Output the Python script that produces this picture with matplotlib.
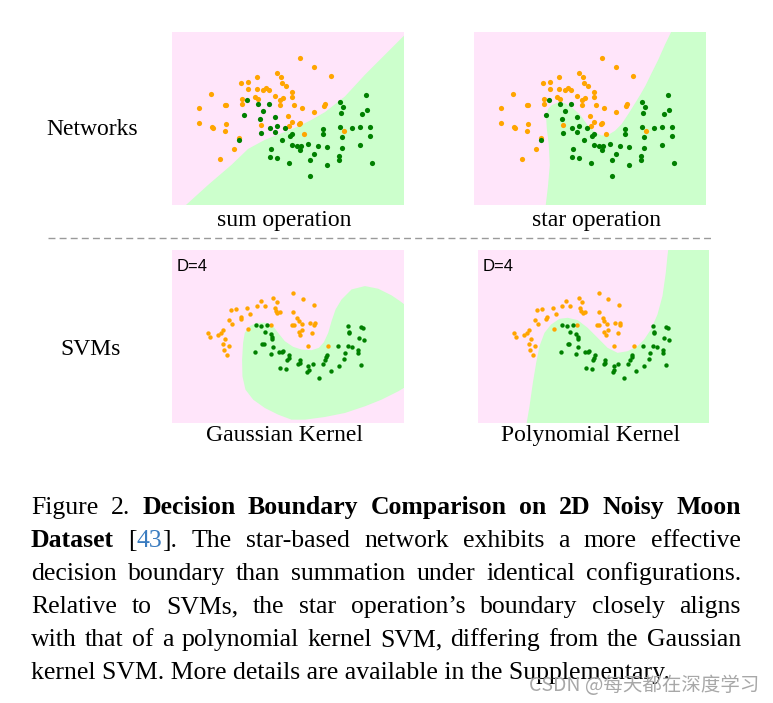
import matplotlib
matplotlib.use("Agg")
import matplotlib.pyplot as plt
import numpy as np

W, H = 773, 703
fig = plt.figure(figsize=(W / 100, H / 100), dpi=100)

# ---------------- data (panel pixel units) ----------------
# Top row dataset (shared by "sum" and "star" panels)
top_orange_x = [405, 447, 497, 338, 350, 277, 230, 250, 352, 364, 250, 276, 295, 305, 312, 138, 382, 232,
                270, 281, 330, 356, 347, 382, 102, 180, 184, 232, 346, 388, 410, 480, 477, 447, 370, 382,
                104, 142, 146, 184, 289, 372, 402, 405, 180, 418, 537, 224, 208, 166]
top_orange_y = [101, 128, 153, 144, 158, 156, 174, 173, 176, 183, 192, 192, 196, 190, 196, 207, 201, 222,
                218, 222, 215, 221, 226, 217, 249, 241, 240, 237, 242, 241, 251, 239, 243, 261, 275, 291,
                293, 307, 309, 298, 300, 302, 298, 294, 319, 326, 319, 339, 371, 403]
top_green_x = [604, 525, 534, 529, 590, 607, 248, 280, 313, 238, 294, 285, 332, 475, 475, 524, 562, 584,
               616, 532, 614, 288, 316, 338, 331, 362, 380, 374, 352, 223, 430, 380, 396, 408, 406, 460,
               486, 531, 585, 320, 316, 336, 446, 373, 436, 486, 523, 523, 622, 435]
top_green_y = [212, 231, 246, 264, 268, 255, 226, 237, 239, 271, 259, 281, 276, 311, 326, 307, 309, 305,
               307, 336, 333, 323, 310, 304, 321, 310, 328, 332, 344, 344, 356, 360, 362, 364, 375, 363,
               367, 368, 359, 371, 395, 398, 387, 415, 406, 420, 394, 406, 414, 452]

# Bottom row dataset (shared by both SVM panels)
bot_orange_x = [385, 413, 446, 325, 336, 288, 215, 200, 248, 276, 300, 330, 345, 338, 333, 256, 230, 228,
                193, 203, 385, 397, 402, 410, 380, 386, 434, 450, 448, 412, 402, 442, 406, 320, 251, 175,
                170, 160, 131, 137, 180, 174, 194, 178, 186, 430, 490]
bot_orange_y = [152, 168, 187, 166, 177, 174, 199, 201, 196, 189, 190, 196, 207, 210, 204, 214, 224, 230,
                231, 243, 207, 227, 235, 243, 248, 248, 242, 240, 246, 262, 268, 270, 277, 248, 259, 262,
                270, 278, 270, 282, 287, 302, 308, 322, 335, 309, 309]
bot_green_x = [275, 290, 308, 300, 318, 322, 322, 550, 553, 552, 588, 595, 582, 598, 292, 297, 324, 272,
               318, 344, 352, 356, 373, 372, 368, 405, 404, 400, 430, 444, 427, 432, 346, 365, 462, 498,
               486, 484, 480, 473, 518, 548, 560, 578, 578, 540, 536, 522, 588]
bot_green_y = [248, 249, 247, 268, 275, 282, 287, 250, 268, 272, 252, 257, 284, 291, 302, 303, 313, 327,
               333, 328, 327, 324, 337, 345, 350, 352, 360, 362, 369, 364, 386, 380, 374, 378, 405, 383,
               335, 343, 350, 364, 308, 310, 311, 322, 330, 330, 349, 368, 366]

# Decision boundaries (panel pixel units)
sum_bx = [55, 130, 200, 250, 300, 350, 400, 440, 480, 540, 600, 660, 725]
sum_by = [548, 480, 420, 372, 345, 325, 305, 285, 262, 215, 150, 90, 25]
star_bx = [236, 244, 249, 246, 240, 238, 244, 256, 274, 294, 318, 340, 362, 384, 404, 424, 444, 464, 484,
           504, 520, 536, 554, 574, 594, 616]
star_by = [548, 480, 420, 360, 310, 275, 252, 240, 233, 235, 250, 270, 300, 322, 332, 330, 318, 298, 268,
           236, 210, 182, 145, 105, 60, 15]
gauss_bx = [235, 240, 255, 275, 305, 325, 340, 360, 385, 410, 440, 462, 477, 490, 500, 512, 530, 560, 600,
            640, 680, 705, 725, 725, 700, 650, 600, 540, 480, 420, 380, 340, 300, 265, 242, 233, 232]
gauss_by = [300, 270, 250, 240, 240, 250, 270, 295, 312, 320, 322, 315, 298, 270, 235, 200, 170, 140, 130,
            138, 158, 175, 190, 430, 445, 470, 490, 510, 522, 530, 530, 515, 495, 470, 440, 400, 350]
poly_bx = [167, 177, 187, 197, 207, 222, 242, 267, 292, 322, 352, 382, 412, 442, 472, 502, 522, 542, 562,
           577, 587, 592, 595]
poly_by = [548, 490, 420, 360, 310, 270, 245, 228, 225, 232, 255, 285, 315, 330, 325, 310, 290, 260, 215,
           160, 90, 40, 15]

ORANGE = "#FFA500"
GREEN = "#008000"
PINK = "#FFE5FA"
LGREEN = "#CCFFCC"
SERIF = "Liberation Serif"

def make_ax(rect):
    ax = fig.add_axes(rect)
    ax.set_facecolor(PINK)
    ax.set_xlim(22, 717)
    ax.set_ylim(540, 22)
    ax.set_xticks([])
    ax.set_yticks([])
    for s in ax.spines.values():
        s.set_visible(False)
    return ax

def rect_px(x0, y0, x1, y1):
    return [x0 / W, 1 - y1 / H, (x1 - x0) / W, (y1 - y0) / H]

# --- top-left: sum operation
ax1 = make_ax(rect_px(172, 32, 404, 205))
ax1.fill(sum_bx + [725], sum_by + [548], color=LGREEN, lw=0, zorder=1)
# --- top-right: star operation
ax2 = make_ax(rect_px(474, 32, 706, 205))
ax2.fill(star_bx + [725, 725], star_by + [15, 548], color=LGREEN, lw=0, zorder=1)
for ax in (ax1, ax2):
    ax.scatter(top_orange_x, top_orange_y, s=14, color=ORANGE, lw=0, zorder=3)
    ax.scatter(top_green_x, top_green_y, s=14, color=GREEN, lw=0, zorder=3)

# --- bottom-left: Gaussian kernel
ax3 = make_ax(rect_px(172, 250, 404, 423))
ax3.fill(gauss_bx, gauss_by, color=LGREEN, lw=0, zorder=1)
# --- bottom-right: polynomial kernel
ax4 = make_ax(rect_px(478, 250, 709, 423))
ax4.fill(poly_bx + [725, 725], poly_by + [15, 548], color=LGREEN, lw=0, zorder=1)
for ax in (ax3, ax4):
    ax.scatter(bot_orange_x, bot_orange_y, s=10, color=ORANGE, lw=0, zorder=3)
    ax.scatter(bot_green_x, bot_green_y, s=10, color=GREEN, lw=0, zorder=3)
    ax.text(0.022, 0.878, "D=4", transform=ax.transAxes, family="Liberation Sans",
            fontsize=12, ha="left", va="baseline", zorder=4)

def ftext(x, y, s, **kw):
    return fig.text(x / W, 1 - y / H, s, **kw)

lab = dict(family=SERIF, fontsize=17, va="baseline", ha="center")
ftext(92, 135, "Networks", **lab)
ftext(91, 355, "SVMs", **lab)
ftext(284, 226, "sum operation", **lab)
ftext(596, 226, "star operation", **lab)
ftext(284, 441, "Gaussian Kernel", **lab)
ftext(591, 441, "Polynomial Kernel", **lab)

# dashed separator
fig.add_artist(plt.Line2D([48 / W, 714 / W], [1 - 238 / H, 1 - 238 / H], color="#9a9a9a",
                          lw=1.0, ls=(0, (5, 3))))

# ---------------- caption (justified) ----------------
N, B, BL = "normal", "bold", "#3a7cc0"
cap_lines = [
    [[("Figure", N, "k")], [("2.", N, "k")], [("Decision", B, "k")], [("Boundary", B, "k")],
     [("Comparison", B, "k")], [("on", B, "k")], [("2D", B, "k")], [("Noisy", B, "k")], [("Moon", B, "k")]],
    [[("Dataset", B, "k")], [("[", N, "k"), ("43", N, BL), ("].", N, "k")]] +
    [[(w, N, "k")] for w in "The star-based network exhibits a more effective".split()],
    [[(w, N, "k")] for w in "decision boundary than summation under identical configurations.".split()],
    [[(w, N, "k")] for w in "Relative to SVMs, the star operation\u2019s boundary closely aligns".split()],
    [[(w, N, "k")] for w in "with that of a polynomial kernel SVM, differing from the Gaussian".split()],
]
last_line = "kernel SVM. More details are available in the Supplementary."
baselines = [514, 547, 580, 613, 646, 679]
CAP_L, CAP_R = 31, 741
CAP_FS = 18.5

renderer = fig.canvas.get_renderer()

def piece_width(s, weight):
    t = fig.text(0, 0, s, family=SERIF, fontsize=CAP_FS, weight=weight)
    w = t.get_window_extent(renderer).width
    t.remove()
    return w

for words, yb in zip(cap_lines, baselines):
    wlist = [[piece_width(s, wt) for s, wt, c in word] for word in words]
    total = sum(sum(w) for w in wlist)
    gap = (CAP_R - CAP_L - total) / (len(words) - 1)
    x = CAP_L
    for word, ws in zip(words, wlist):
        for (s, wt, c), w in zip(word, ws):
            ftext(x, yb, s, family=SERIF, fontsize=CAP_FS, weight=wt, color=c, va="baseline", ha="left")
            x += w
        x += gap
ftext(CAP_L, baselines[5], last_line, family=SERIF, fontsize=CAP_FS, va="baseline", ha="left")

# watermark
ftext(529, 691, "CSDN @每天都在深度学习", family=["Noto Sans CJK SC", "DejaVu Sans"], fontsize=14,
      color="#a8a8a8", va="baseline", ha="left", zorder=10)

fig.savefig("out.png", dpi=100)
